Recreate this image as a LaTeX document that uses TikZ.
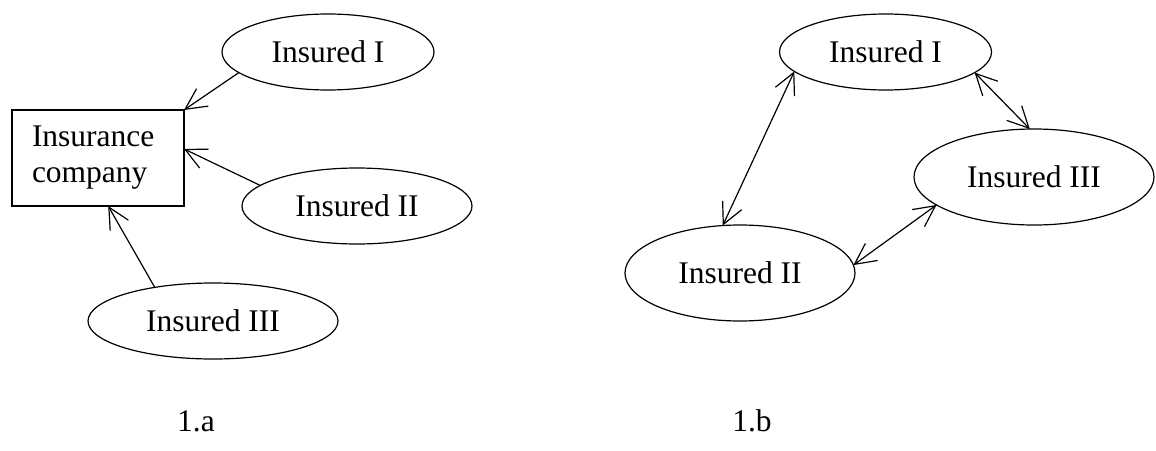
\documentclass[tikz,border=0pt]{standalone}
\usepackage{fontspec}
\setmainfont{Liberation Serif}
\usetikzlibrary{shapes.geometric,arrows.meta}
\begin{document}
\begin{tikzpicture}[x=1pt,y=-1pt,
  every node/.style={font=\fontsize{31.5}{36}\selectfont},
  ell/.style={draw, ellipse, inner sep=0pt, outer sep=0pt, line width=1.2pt},
  boxnode/.style={draw, rectangle, line width=1.2pt, outer sep=0pt, inner xsep=20pt, inner ysep=0pt, text width=132pt, align=left, minimum height=96pt},
  arr/.style={line width=1.2pt, -{Straight Barb[length=21pt,width=21pt,line width=1.2pt]}},
  darr/.style={line width=1.2pt, {Straight Barb[length=21pt,width=21pt,line width=1.2pt]}-{Straight Barb[length=21pt,width=21pt,line width=1.2pt]}},
  lbl/.style={inner sep=0pt}]
\useasboundingbox (0,0) rectangle (1156,450);
% 1.a
\node[boxnode] (comp) at (98,158) {Insurance\\company};
\node[ell, minimum width=212, minimum height=76] (ia1) at (328,52) {Insured I};
\node[ell, minimum width=230, minimum height=76] (ia2) at (357,206) {Insured II};
\node[ell, minimum width=250, minimum height=76] (ia3) at (213,321) {Insured III};
\draw[arr] (ia1.193.7) -- (comp.north east);
\draw[arr] (ia2.168.7) -- (comp.6);
\draw[arr] (ia3.150.7) -- (comp.-78.2);
% 1.b
\node[ell, minimum width=212, minimum height=76] (ib1) at (885.5,52) {Insured I};
\node[ell, minimum width=230, minimum height=96] (ib2) at (740,273) {Insured II};
\node[ell, minimum width=240, minimum height=96] (ib3) at (1034,177) {Insured III};
\draw[darr] (ib1.192.3) -- (ib2.110.4);
\draw[darr] (ib1.-13.7) -- (ib3.95.1);
\draw[darr] (ib2.4.4) -- (ib3.196.3);
% captions
\node[lbl] (la) at (196,421) {1.a};
\node[lbl] (lb) at (752,421) {1.b};
\end{tikzpicture}
\end{document}
